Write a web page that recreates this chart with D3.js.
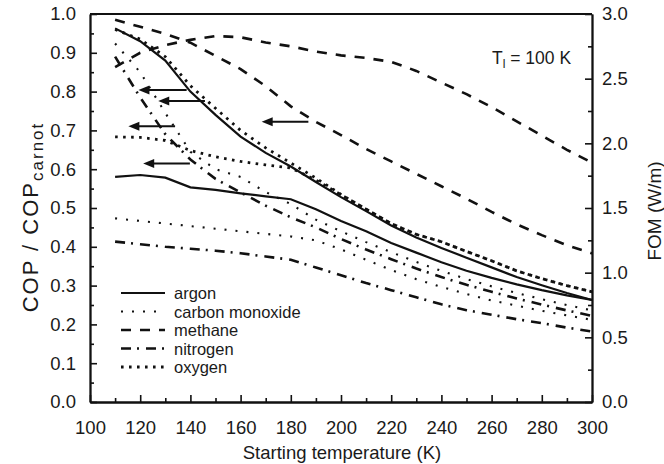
<!DOCTYPE html>
<html>
<head>
<meta charset="utf-8">
<script src="https://cdn.jsdelivr.net/npm/d3@7"></script>
<style>
body { margin: 0; background: #fff; }
text { font-family: "Liberation Sans", Arial, sans-serif; fill: #1a1a1a; }
</style>
</head>
<body>
<svg id="svg"></svg>
<script>
// starting temperature (K)
var temps = [110, 120, 130, 140, 150, 160, 170, 180, 190, 200, 210, 220, 230, 240, 250, 260, 270, 280, 290, 300];

// COP / COPcarnot (left axis)
var argonCOP    = [0.963, 0.930, 0.880, 0.800, 0.740, 0.684, 0.642, 0.607, 0.567, 0.528, 0.492, 0.455, 0.424, 0.397, 0.372, 0.347, 0.322, 0.301, 0.281, 0.263];
var coCOP       = [0.924, 0.850, 0.745, 0.645, 0.600, 0.580, 0.541, 0.510, 0.470, 0.440, 0.412, 0.386, 0.361, 0.338, 0.317, 0.298, 0.281, 0.265, 0.250, 0.236];
var methaneCOP  = [0.985, 0.967, 0.949, 0.926, 0.892, 0.858, 0.814, 0.762, 0.722, 0.688, 0.652, 0.620, 0.588, 0.556, 0.524, 0.490, 0.458, 0.430, 0.404, 0.383];
var nitrogenCOP = [0.890, 0.785, 0.690, 0.625, 0.575, 0.540, 0.506, 0.476, 0.450, 0.420, 0.393, 0.368, 0.344, 0.322, 0.302, 0.284, 0.267, 0.251, 0.236, 0.222];
var oxygenCOP   = [0.960, 0.935, 0.890, 0.815, 0.757, 0.700, 0.655, 0.616, 0.577, 0.535, 0.497, 0.460, 0.432, 0.413, 0.388, 0.364, 0.338, 0.318, 0.300, 0.284];

// FOM in W/m (right axis)
var argonFOM    = [1.74, 1.755, 1.735, 1.66, 1.64, 1.613, 1.59, 1.568, 1.49, 1.40, 1.32, 1.23, 1.155, 1.08, 1.015, 0.96, 0.91, 0.865, 0.825, 0.79];
var coFOM       = [1.42, 1.40, 1.38, 1.36, 1.34, 1.32, 1.30, 1.28, 1.25, 1.18, 1.10, 1.02, 0.95, 0.89, 0.835, 0.785, 0.745, 0.705, 0.67, 0.635];
var methaneFOM  = [2.59, 2.70, 2.76, 2.80, 2.83, 2.82, 2.78, 2.75, 2.71, 2.68, 2.66, 2.63, 2.56, 2.47, 2.38, 2.28, 2.17, 2.06, 1.95, 1.85];
var nitrogenFOM = [1.24, 1.22, 1.20, 1.185, 1.17, 1.15, 1.125, 1.10, 1.04, 0.98, 0.92, 0.865, 0.81, 0.755, 0.71, 0.675, 0.64, 0.61, 0.575, 0.545];
var oxygenFOM   = [2.05, 2.046, 2.022, 1.944, 1.896, 1.86, 1.833, 1.81, 1.716, 1.602, 1.491, 1.38, 1.296, 1.239, 1.164, 1.092, 1.014, 0.954, 0.90, 0.852];

var gases = ['argon', 'carbon monoxide', 'methane', 'nitrogen', 'oxygen'];

// tick labels
var xTicks = [100, 120, 140, 160, 180, 200, 220, 240, 260, 280, 300];
var yLeftTicks = [0, 0.1, 0.2, 0.3, 0.4, 0.5, 0.6, 0.7, 0.8, 0.9, 1.0];
var yRightTicks = [0, 0.5, 1.0, 1.5, 2.0, 2.5, 3.0];

// arrows: which curves belong to the left axis (T from, T to, COP level)
var arrowFrom  = [138.5, 145.8, 133.9, 139.8, 187.0];
var arrowTo    = [119.3, 127.2, 115.3, 121.2, 168.4];
var arrowLevel = [0.804, 0.776, 0.711, 0.615, 0.722];

var W = 664, H = 464;
var L = 90, R = 592, T = 14, B = 402;

var svg = d3.select('#svg').attr('width', W).attr('height', H);

var x = d3.scaleLinear().domain([100, 300]).range([L, R]);
var yL = d3.scaleLinear().domain([0, 1]).range([B, T]);
var yR = d3.scaleLinear().domain([0, 3]).range([B, T]);

var styles = {
  'argon':           { dash: null,         w: 2.2 },
  'carbon monoxide': { dash: '2 9',        w: 2.1 },
  'methane':         { dash: '10 9',       w: 2.6 },
  'nitrogen':        { dash: '10 6 2 7',   w: 2.6 },
  'oxygen':          { dash: '2.6 5.4',    w: 2.8 }
};

var series = [
  { gas: 'argon', cop: argonCOP, fom: argonFOM },
  { gas: 'carbon monoxide', cop: coCOP, fom: coFOM },
  { gas: 'methane', cop: methaneCOP, fom: methaneFOM },
  { gas: 'nitrogen', cop: nitrogenCOP, fom: nitrogenFOM },
  { gas: 'oxygen', cop: oxygenCOP, fom: oxygenFOM }
];

var lineL = d3.line().x(function (d, i) { return x(temps[i]); }).y(function (d) { return yL(d); });
var lineR = d3.line().x(function (d, i) { return x(temps[i]); }).y(function (d) { return yR(d); });

var plot = svg.append('g');
series.forEach(function (s) {
  var st = styles[s.gas];
  [[s.cop, lineL], [s.fom, lineR]].forEach(function (p) {
    plot.append('path')
      .attr('d', p[1](p[0]))
      .attr('fill', 'none')
      .attr('stroke', '#111')
      .attr('stroke-width', st.w)
      .attr('stroke-dasharray', st.dash);
  });
});

// arrows
arrowLevel.forEach(function (v, i) {
  var y0 = yL(v), xs = x(arrowFrom[i]), xe = x(arrowTo[i]);
  plot.append('line')
    .attr('x1', xs).attr('x2', xe + 8).attr('y1', y0).attr('y2', y0)
    .attr('stroke', '#111').attr('stroke-width', 2);
  plot.append('path')
    .attr('d', 'M' + xe + ',' + y0 + 'L' + (xe + 11) + ',' + (y0 - 4.5) + 'L' + (xe + 11) + ',' + (y0 + 4.5) + 'Z')
    .attr('fill', '#111');
});

// axes
function styleAxis(g) {
  g.selectAll('.domain').attr('stroke', '#111').attr('stroke-width', 1.8);
  g.selectAll('.tick line').attr('stroke', '#111').attr('stroke-width', 1.6);
  g.selectAll('.tick text').style('font-size', '18.5px').attr('fill', '#1a1a1a');
}

svg.append('g').attr('transform', 'translate(0,' + B + ')')
  .call(d3.axisBottom(x).tickValues(d3.range(110, 300, 20)).tickSize(-4).tickSizeOuter(0).tickFormat(''))
  .call(styleAxis);
svg.append('g').attr('transform', 'translate(0,' + B + ')')
  .call(d3.axisBottom(x).tickValues(xTicks).tickSize(-7).tickSizeOuter(0).tickPadding(19).tickFormat(d3.format('d')))
  .call(styleAxis);

svg.append('g').attr('transform', 'translate(' + L + ',0)')
  .call(d3.axisLeft(yL).tickValues(d3.range(0.05, 1, 0.1)).tickSize(-4).tickSizeOuter(0).tickFormat(''))
  .call(styleAxis);
svg.append('g').attr('transform', 'translate(' + L + ',0)')
  .call(d3.axisLeft(yL).tickValues(yLeftTicks).tickSize(-7).tickSizeOuter(0).tickPadding(14).tickFormat(d3.format('.1f')))
  .call(styleAxis);

svg.append('g').attr('transform', 'translate(' + R + ',0)')
  .call(d3.axisRight(yR).tickValues(d3.range(0.25, 3, 0.5)).tickSize(-4).tickSizeOuter(0).tickFormat(''))
  .call(styleAxis);
svg.append('g').attr('transform', 'translate(' + R + ',0)')
  .call(d3.axisRight(yR).tickValues(yRightTicks).tickSize(-7).tickSizeOuter(0).tickPadding(10).tickFormat(d3.format('.1f')))
  .call(styleAxis);

svg.append('line').attr('x1', L).attr('x2', R).attr('y1', T).attr('y2', T)
  .attr('stroke', '#111').attr('stroke-width', 1.8);

// titles
svg.append('text').attr('x', (L + R) / 2 + 1).attr('y', 459).attr('text-anchor', 'middle')
  .style('font-size', '18.5px').text('Starting temperature (K)');

var lt = svg.append('text').attr('transform', 'translate(38,217) rotate(-90)').attr('text-anchor', 'middle')
  .style('font-size', '22px').style('letter-spacing', '2px');
lt.append('tspan').text('COP / COP');
lt.append('tspan').attr('dy', 5).style('font-size', '17px').text('carnot');

svg.append('text').attr('transform', 'translate(661,211) rotate(-90)').attr('text-anchor', 'middle')
  .style('font-size', '19px').text('FOM (W/m)');

var tl = svg.append('text').attr('x', 492).attr('y', 64).style('font-size', '17.5px');
tl.append('tspan').text('T');
tl.append('tspan').attr('dy', 4).style('font-size', '12px').text('l');
tl.append('tspan').attr('dy', -4).text(' = 100 K');

// legend
var leg = svg.append('g').selectAll('g').data(gases).enter().append('g')
  .attr('transform', function (d, i) { return 'translate(121,' + (293 + i * 18.5) + ')'; });
leg.append('line').attr('x1', 0).attr('x2', 44).attr('y1', 0).attr('y2', 0)
  .attr('stroke', '#111')
  .attr('stroke-width', function (d) { return styles[d].w; })
  .attr('stroke-dasharray', function (d) { return styles[d].dash; });
leg.append('text').attr('x', 53).attr('y', 6).style('font-size', '16.5px').text(function (d) { return d; });
</script>
</body>
</html>
